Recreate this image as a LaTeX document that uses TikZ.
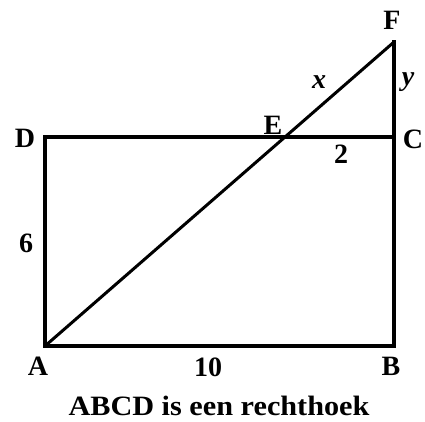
\documentclass[tikz,border=0pt]{standalone}
\usepackage{fontspec}
\setmainfont{Liberation Serif}
\begin{document}
\begin{tikzpicture}[x=1pt,y=-1pt,
  edge/.style={line width=3.4pt,line cap=rect,line join=miter},
  diag/.style={line width=3pt,line cap=round},
  lbl/.style={inner sep=0pt,font=\fontsize{28}{28}\selectfont\bfseries},
  ilbl/.style={inner sep=0pt,font=\fontsize{28}{28}\selectfont\bfseries\itshape}]
\useasboundingbox (0,0) rectangle (425,421);
\coordinate (A) at (45,346);
\coordinate (B) at (394,346);
\coordinate (C) at (394,137);
\coordinate (D) at (45,137);
\coordinate (F) at (394,42);
\coordinate (E) at (285,137);
\draw[edge] (A) -- (B) -- (C) -- (D) -- cycle;
\draw[edge] (C) -- (F);
\draw[diag] (A) -- (E) -- (F);
\node[lbl] (lF) at (392,20) {F};
\node[ilbl] (lx) at (319,82) {x};
\node[ilbl] (ly) at (408,82) {y};
\node[lbl] (lE) at (273,125) {E};
\node[lbl] (lD) at (25,138) {D};
\node[lbl] (lC) at (413,139) {C};
\node[lbl] (l2) at (341,154) {2};
\node[lbl] (l6) at (26,243) {6};
\node[lbl] (lA) at (38,366) {A};
\node[lbl] (l10) at (208,367) {10};
\node[lbl,xscale=1.08] (cap) at (219,406) {ABCD is een rechthoek};
\node[lbl] (lB) at (391,366) {B};
\end{tikzpicture}
\end{document}
